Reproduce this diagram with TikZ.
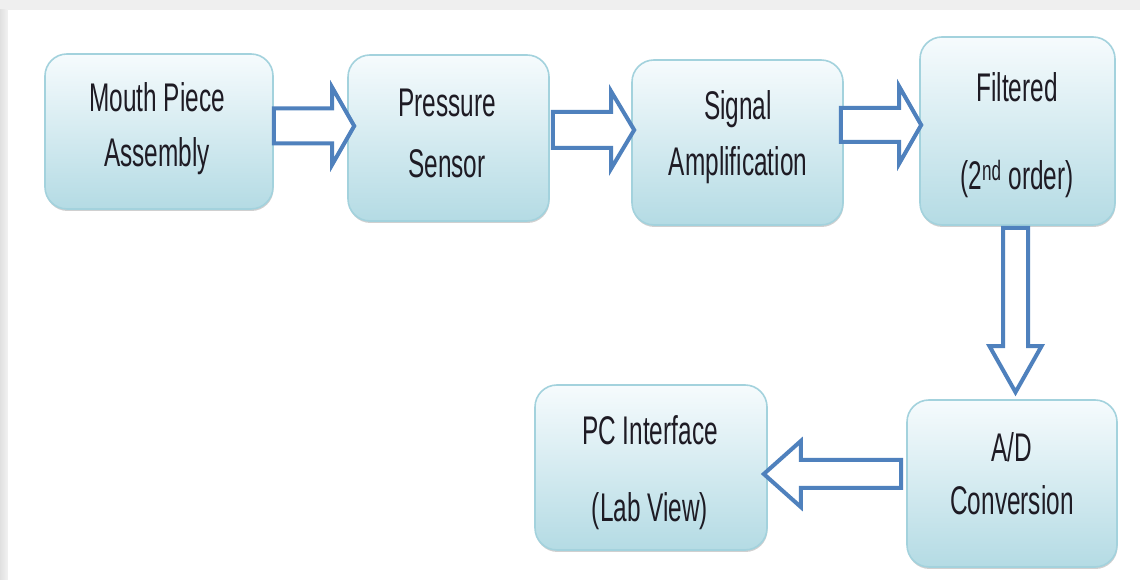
\documentclass[tikz,border=0pt]{standalone}
\usepackage{fontspec}
\setmainfont{Liberation Sans}[FakeStretch=0.61]
\usetikzlibrary{calc,shadows}
\definecolor{boxtop}{HTML}{F6FBFD}
\definecolor{boxbot}{HTML}{B4DBE4}
\definecolor{boxline}{HTML}{A3D2DD}
\definecolor{arrowblue}{HTML}{4F81BD}
\definecolor{txt}{HTML}{1E1B24}
\definecolor{bggray}{HTML}{EFEFEF}
% horizontal block arrow: #1 start point, #2 tip point, #3 centre y, #4 shaft half, #5 head half, #6 signed head length
\newcommand\HBlockArrow[6]{%
  \draw[barrow] let \p1=#1, \p2=#2 in
    (\x1,{#3+#4}) -- ({\x2-(#6)},{#3+#4}) -- ({\x2-(#6)},{#3+#5}) -- (\x2,#3)
    -- ({\x2-(#6)},{#3-#5}) -- ({\x2-(#6)},{#3-#4}) -- (\x1,{#3-#4}) -- cycle;}
% vertical block arrow (downwards): #1 start point, #2 tip point, #3 centre x, #4 shaft half, #5 head half, #6 head length
\newcommand\VBlockArrow[6]{%
  \draw[barrow] let \p1=#1, \p2=#2 in
    ({#3-#4},\y1) -- ({#3-#4},{\y2+#6}) -- ({#3-#5},{\y2+#6}) -- (#3,\y2)
    -- ({#3+#5},{\y2+#6}) -- ({#3+#4},{\y2+#6}) -- ({#3+#4},\y1) -- cycle;}
\begin{document}
\begin{tikzpicture}[x=1pt,y=1pt,
  blockbox/.style={draw=boxline, line width=1.6pt, rounded corners=22pt,
    top color=boxtop, bottom color=boxbot, inner sep=0pt,
    drop shadow={shadow xshift=0.5pt, shadow yshift=-2pt, opacity=0.3, fill=black!60}},
  txtstyle/.style={anchor=base, text=txt, font=\fontsize{40}{44}\selectfont, inner sep=0pt},
  barrow/.style={draw=arrowblue, line width=4pt, fill=white, line join=miter}]

\useasboundingbox (0,0) rectangle (1140,580);
\fill[bggray] (0,0) rectangle (1140,580);
\shade[left color=black!12, right color=black!5] (0,0) rectangle (8,570);
\fill[white] (8,0) rectangle (1140,570);

% boxes
\node[blockbox, minimum width=228pt, minimum height=155pt] (b1) at (159,448.5) {};
\node[blockbox, minimum width=201pt, minimum height=166pt] (b2) at (448.5,442) {};
\node[blockbox, minimum width=211pt, minimum height=165pt] (b3) at (737.5,437.5) {};
\node[blockbox, minimum width=195pt, minimum height=188pt] (b4) at (1017.5,449) {};
\node[blockbox, minimum width=210pt, minimum height=167pt] (b5) at (1012,96.5) {};
\node[blockbox, minimum width=232pt, minimum height=165pt] (b6) at (651,112.5) {};

% texts
\node[txtstyle] (t1a) at (157,468) {Mouth Piece};
\node[txtstyle] (t1b) at (157,413) {Assembly};
\node[txtstyle] (t2a) at (447,463) {Pressure};
\node[txtstyle] (t2b) at (447,402) {Sensor};
\node[txtstyle] (t3a) at (738,460) {Signal};
\node[txtstyle] (t3b) at (738,404) {Amplification};
\node[txtstyle] (t4a) at (1017,478) {Filtered};
\node[txtstyle] (t4b) at (1017,390) {(2\textsuperscript{nd} order)};
\node[txtstyle] (t5a) at (1012,118) {A/D};
\node[txtstyle] (t5b) at (1012,65) {Conversion};
\node[txtstyle] (t6a) at (650,135) {PC Interface};
\node[txtstyle] (t6b) at (650,58) {(Lab View)};

% connectors
\HBlockArrow{(b1.east)}{($(b2.west)+(7,0)$)}{454}{17.5}{38.5}{22}
\HBlockArrow{($(b2.east)+(3,0)$)}{($(b3.west)+(3,0)$)}{450}{18}{38.5}{23}
\HBlockArrow{($(b3.east)+(-3,0)$)}{($(b4.west)+(2,0)$)}{455}{17}{38.5}{22}
\VBlockArrow{($(b4.south)+(0,-2)$)}{($(b5.north)+(0,7)$)}{1015.5}{12.5}{26}{46}
\HBlockArrow{($(b5.west)+(-5,0)$)}{($(b6.east)+(-4,0)$)}{106}{14}{33}{-37}
\end{tikzpicture}
\end{document}
